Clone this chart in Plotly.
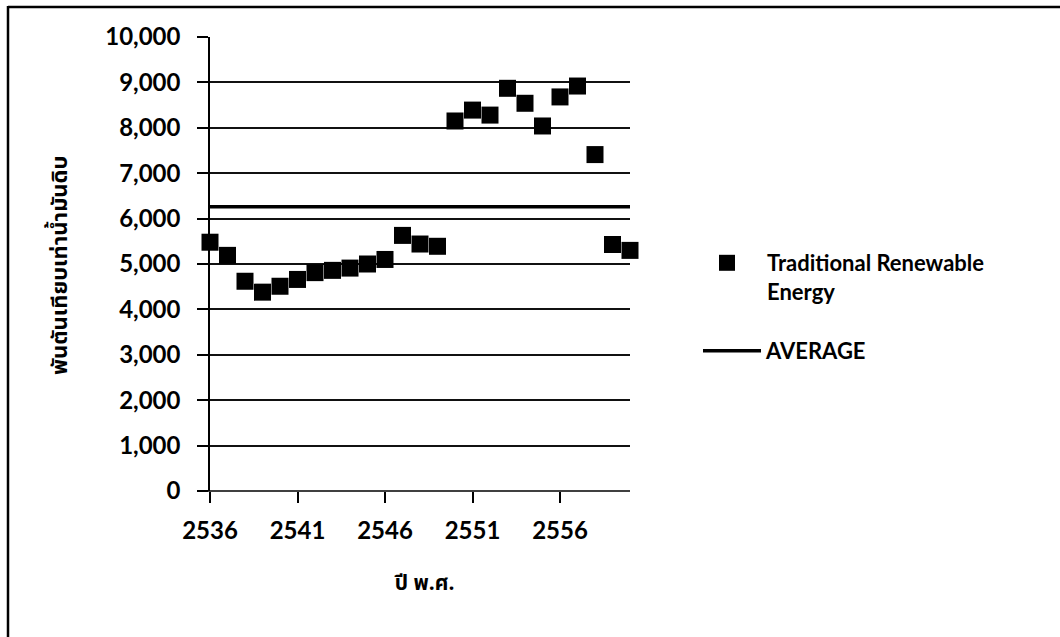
import plotly.graph_objects as go

# ---- data ----
years = list(range(2536, 2561))
energy = [5480, 5190, 4620, 4380, 4510, 4660, 4810, 4860, 4910, 5000, 5100,
          5630, 5440, 5390, 8150, 8390, 8280, 8870, 8540, 8040, 8680, 8920,
          7410, 5430, 5300]
avg_years = [2536, 2560]
avg_values = [6260, 6260]
y_ticks = [0, 1000, 2000, 3000, 4000, 5000, 6000, 7000, 8000, 9000, 10000]
y_tick_labels = ["0", "1,000", "2,000", "3,000", "4,000", "5,000", "6,000",
                 "7,000", "8,000", "9,000", "10,000"]
x_ticks = [2536, 2541, 2546, 2551, 2556]
x_tick_labels = ["2536", "2541", "2546", "2551", "2556"]
series_names = ["Traditional Renewable<br>Energy", "AVERAGE"]
y_title = "พันตันเทียบเท่าน้ำมันดิบ"
x_title = "ปี พ.ศ."

W, H = 1060, 637
ML, MR, MT, MB = 210, 430, 37, 146
PW, PH = W - ML - MR, H - MT - MB


def px_x(p):
    return (p - ML) / PW


def px_y(p):
    return (H - MB - p) / PH


FONT = "Lato, 'Noto Sans', 'DejaVu Sans', sans-serif"
THAI = "'Noto Sans Thai', 'Noto Sans', 'DejaVu Sans', sans-serif"

fig = go.Figure()
fig.add_trace(go.Scatter(
    x=years, y=energy, mode="markers", name=series_names[0],
    marker=dict(symbol="square", size=17, color="black"),
    cliponaxis=False, legend="legend",
))
fig.add_trace(go.Scatter(
    x=avg_years, y=avg_values, mode="lines", name=series_names[1],
    line=dict(color="black", width=3.5),
    cliponaxis=False, legend="legend2",
))

fig.update_layout(
    width=W, height=H,
    margin=dict(l=ML, r=MR, t=MT, b=MB, autoexpand=False),
    paper_bgcolor="white", plot_bgcolor="white",
    font=dict(family=FONT, size=22, color="black"),
    showlegend=True,
    legend=dict(x=px_x(687), y=px_y(242), xanchor="left", yanchor="top",
                valign="top", font=dict(size=22, family=FONT, weight="bold"),
                bgcolor="rgba(0,0,0,0)", itemwidth=70),
    legend2=dict(x=px_x(698), y=px_y(330), xanchor="left", yanchor="top",
                 font=dict(size=22, family=FONT, weight="bold"),
                 bgcolor="rgba(0,0,0,0)", itemwidth=58),
    xaxis=dict(range=[2536, 2560], tickvals=x_ticks, ticktext=x_tick_labels,
               showgrid=False, zeroline=False, showline=False,
               ticks="outside", ticklen=11, tickwidth=1.5, tickcolor="black",
               tickfont=dict(size=24, family=FONT, weight="bold"),
               ticklabelstandoff=7, fixedrange=True),
    yaxis=dict(range=[0, 10000], tickvals=y_ticks, ticktext=y_tick_labels,
               showgrid=True, gridcolor="#111", gridwidth=1.5,
               zeroline=False, showline=True, linecolor="black", linewidth=1.5,
               ticks="outside", ticklen=11, tickwidth=1.5, tickcolor="black",
               tickfont=dict(size=24, family=FONT, weight="bold"),
               ticklabelstandoff=12, fixedrange=True),
    shapes=[
        dict(type="line", xref="paper", yref="paper", x0=px_x(8), x1=px_x(1062),
             y0=px_y(7), y1=px_y(7), line=dict(color="black", width=2.5)),
        dict(type="line", xref="paper", yref="paper", x0=px_x(8), x1=px_x(8),
             y0=px_y(6), y1=px_y(640), line=dict(color="black", width=2.5)),
        dict(type="line", xref="paper", yref="paper", x0=px_x(199), x1=1,
             y0=0, y1=0, line=dict(color="black", width=1.5)),
    ],
    annotations=[
        dict(text=y_title, xref="paper", yref="paper", x=px_x(60), y=px_y(266),
             showarrow=False, textangle=-90, xanchor="center", yanchor="middle",
             font=dict(size=22, family=THAI, weight="bold")),
        dict(text=x_title, xref="paper", yref="paper", x=px_x(424), y=px_y(583),
             showarrow=False, xanchor="center", yanchor="middle",
             font=dict(size=21, family=THAI, weight="bold")),
    ],
)

fig.write_html("out.html")
